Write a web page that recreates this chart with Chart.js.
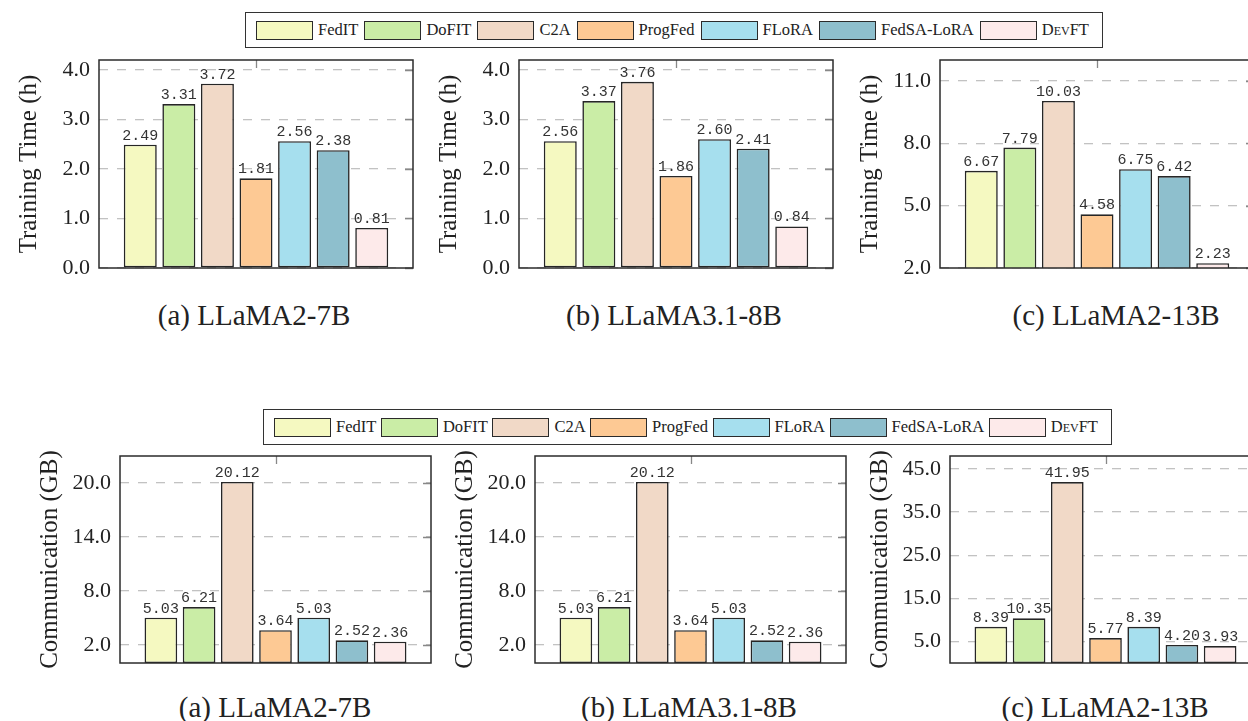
<!DOCTYPE html>
<html>
<head>
<meta charset="utf-8">
<title>Training time and communication</title>
<script src="https://cdn.jsdelivr.net/npm/chart.js@4.4.1/dist/chart.umd.min.js"></script>
<style>
  html, body { margin: 0; padding: 0; background: #fff; }
  body { width: 1248px; height: 721px; overflow: hidden; position: relative; font-family: "Liberation Serif", serif; color: #222; }
  .legend { position: absolute; height: 36px; box-sizing: border-box; border: 1.5px solid #333; display: flex; align-items: center; justify-content: space-between; padding: 0 13px 0 10px; font-size: 16.5px; }
  .legend .item { display: flex; align-items: center; }
  .legend .swatch { width: 55px; height: 17px; border: 1.4px solid #2b2b2b; margin-right: 5px; }
  .legend .sc { font-variant: small-caps; }
  .plot { position: absolute; }
  .caption { position: absolute; width: 360px; text-align: center; font-size: 29px; line-height: 34px; }
</style>
</head>
<body>

<div class="legend" id="legendTop" style="left:245px; top:12px; width:858px;"></div>
<div class="legend" id="legendBottom" style="left:263px; top:409px; width:849px;"></div>

<div id="charts"></div>

<script>
// --- data ---
const methods = ['FedIT', 'DoFIT', 'C2A', 'ProgFed', 'FLoRA', 'FedSA-LoRA', 'DevFT'];
const methodColors = ['#f5f9c1', '#caeda6', '#f1d9c7', '#fdc994', '#a6dfee', '#8ebfcd', '#fdeaea'];

const timeLlama2_7b  = [2.49, 3.31, 3.72, 1.81, 2.56, 2.38, 0.81];
const timeLlama31_8b = [2.56, 3.37, 3.76, 1.86, 2.60, 2.41, 0.84];
const timeLlama2_13b = [6.67, 7.79, 10.03, 4.58, 6.75, 6.42, 2.23];

const commLlama2_7b  = [5.03, 6.21, 20.12, 3.64, 5.03, 2.52, 2.36];
const commLlama31_8b = [5.03, 6.21, 20.12, 3.64, 5.03, 2.52, 2.36];
const commLlama2_13b = [8.39, 10.35, 41.95, 5.77, 8.39, 4.20, 3.93];

const timeTicksSmall = [0, 1, 2, 3, 4];
const timeTicksLarge = [2, 5, 8, 11];
const commTicksSmall = [2, 8, 14, 20];
const commTicksLarge = [5, 15, 25, 35, 45];

const captions = ['(a) LLaMA2-7B', '(b) LLaMA3.1-8B', '(c) LLaMA2-13B'];

// --- legends (html, one box per row) ---
function buildLegend(el) {
    methods.forEach((name, i) => {
        const item = document.createElement('div');
        item.className = 'item';
        const sw = document.createElement('div');
        sw.className = 'swatch';
        sw.style.background = methodColors[i];
        const txt = document.createElement('span');
        txt.textContent = name;
        if (name === 'DevFT') txt.className = 'sc';
        item.appendChild(sw);
        item.appendChild(txt);
        el.appendChild(item);
    });
}
buildLegend(document.getElementById('legendTop'));
buildLegend(document.getElementById('legendBottom'));

// --- plugins ---
const valueLabels = {
    id: 'valueLabels',
    afterDatasetsDraw(chart) {
        const ctx = chart.ctx;
        ctx.save();
        ctx.font = '15px "Liberation Mono", monospace';
        ctx.fillStyle = '#333';
        ctx.textAlign = 'center';
        ctx.textBaseline = 'alphabetic';
        chart.data.datasets.forEach((ds, i) => {
            const bar = chart.getDatasetMeta(i).data[0];
            ctx.fillText(ds.data[0].toFixed(2), bar.x, bar.y - 5);
        });
        ctx.restore();
    }
};

// frame around the plot plus the small pgfplots-like tick marks
const frame = {
    id: 'frame',
    afterDatasetsDraw(chart) {
        const { ctx, chartArea: a, scales } = chart;
        ctx.save();
        ctx.strokeStyle = '#888';
        ctx.lineWidth = 1.3;
        ctx.beginPath();
        scales.y.ticks.forEach(t => {
            const py = Math.round(scales.y.getPixelForValue(t.value)) + 0.5;
            ctx.moveTo(a.right - 8, py);
            ctx.lineTo(a.right, py);
        });
        const cx = Math.round((a.left + a.right) / 2) + 0.5;
        ctx.moveTo(cx, a.top);
        ctx.lineTo(cx, a.top + 8);
        ctx.stroke();
        ctx.strokeStyle = '#2b2b2b';
        ctx.lineWidth = 1.5;
        ctx.strokeRect(a.left, a.top, a.right - a.left, a.bottom - a.top);
        ctx.restore();
    }
};

// --- charts ---
const axisWidth = 95;
const padTop = 26, padBottom = 26, padRight = 8;

function makeChart(rect, values, yMin, yMax, yTicks, yTitle) {
    const w = rect.right - rect.left + axisWidth + padRight;
    const h = rect.bottom - rect.top + padTop + padBottom;
    const holder = document.createElement('div');
    holder.className = 'plot';
    holder.style.left = (rect.left - axisWidth) + 'px';
    holder.style.top = (rect.top - padTop) + 'px';
    holder.style.width = w + 'px';
    holder.style.height = h + 'px';
    const canvas = document.createElement('canvas');
    canvas.width = w;
    canvas.height = h;
    holder.appendChild(canvas);
    document.getElementById('charts').appendChild(holder);

    new Chart(canvas.getContext('2d'), {
        type: 'bar',
        data: {
            labels: [''],
            datasets: methods.map((m, i) => ({
                label: m,
                data: [values[i]],
                backgroundColor: methodColors[i],
                borderColor: '#262626',
                borderWidth: 1.6,
                borderSkipped: false,
                categoryPercentage: 0.86,
                barPercentage: 0.855
            }))
        },
        options: {
            responsive: false,
            animation: false,
            devicePixelRatio: 1,
            layout: { padding: { top: padTop, bottom: padBottom, left: 0, right: padRight } },
            plugins: { legend: { display: false }, tooltip: { enabled: false } },
            scales: {
                x: { display: false },
                y: {
                    min: yMin,
                    max: yMax,
                    afterBuildTicks: scale => { scale.ticks = yTicks.map(v => ({ value: v })); },
                    afterFit: scale => { scale.width = axisWidth; },
                    grid: { color: '#c2c2c2', lineWidth: 1.3, drawTicks: false },
                    border: { display: false, dash: [9, 9] },
                    ticks: {
                        padding: 9,
                        color: '#222',
                        font: { family: '"Liberation Serif", serif', size: 22 },
                        callback: v => Number(v).toFixed(1)
                    },
                    title: {
                        display: true,
                        text: yTitle,
                        color: '#222',
                        padding: { top: 10, bottom: 0 },
                        font: { family: '"Liberation Serif", serif', size: 25 }
                    }
                }
            }
        },
        plugins: [valueLabels, frame]
    });
}

function addCaption(text, centerX, centerY) {
    const d = document.createElement('div');
    d.className = 'caption';
    d.textContent = text;
    d.style.left = (centerX - 180) + 'px';
    d.style.top = (centerY - 17) + 'px';
    document.body.appendChild(d);
}

const topRects = [
    { left: 99, right: 413, top: 60, bottom: 268 },
    { left: 519, right: 833, top: 60, bottom: 268 },
    { left: 940, right: 1254, top: 60, bottom: 268 }
];
const bottomRects = [
    { left: 120, right: 431, top: 456, bottom: 663 },
    { left: 535, right: 846, top: 456, bottom: 663 },
    { left: 950, right: 1261, top: 456, bottom: 663 }
];

makeChart(topRects[0], timeLlama2_7b, 0, 4.2, timeTicksSmall, 'Training Time (h)');
makeChart(topRects[1], timeLlama31_8b, 0, 4.2, timeTicksSmall, 'Training Time (h)');
makeChart(topRects[2], timeLlama2_13b, 2, 12, timeTicksLarge, 'Training Time (h)');
makeChart(bottomRects[0], commLlama2_7b, 0, 23, commTicksSmall, 'Communication (GB)');
makeChart(bottomRects[1], commLlama31_8b, 0, 23, commTicksSmall, 'Communication (GB)');
makeChart(bottomRects[2], commLlama2_13b, 0, 48, commTicksLarge, 'Communication (GB)');

addCaption(captions[0], 254, 315);
addCaption(captions[1], 674, 315);
addCaption(captions[2], 1116, 315);
addCaption(captions[0], 275, 707);
addCaption(captions[1], 689, 707);
addCaption(captions[2], 1105, 707);
</script>
</body>
</html>
